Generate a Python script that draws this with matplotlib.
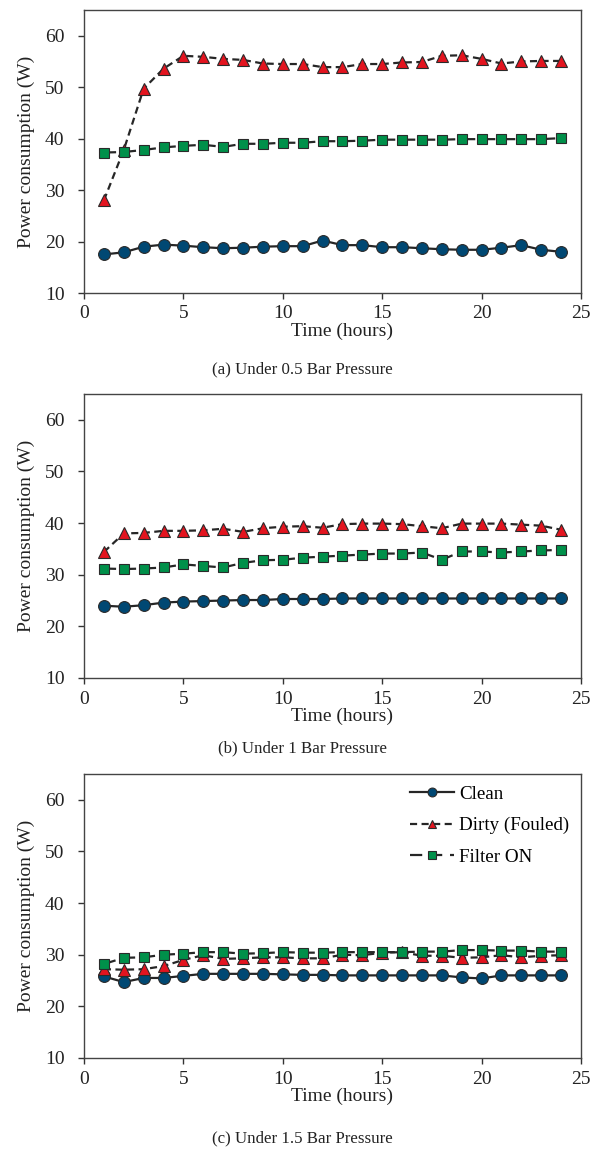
import matplotlib
matplotlib.use("Agg")
import matplotlib.pyplot as plt

plt.rcParams['font.family'] = ['Liberation Serif', 'DejaVu Serif']

hours = list(range(1, 25))

clean_a = [17.5, 17.9, 19.0, 19.4, 19.2, 18.9, 18.7, 18.8, 19.0, 19.1, 19.1, 20.2,
           19.3, 19.3, 18.9, 18.9, 18.7, 18.5, 18.4, 18.4, 18.8, 19.3, 18.4, 18.0]
dirty_a = [28.0, 37.8, 49.7, 53.6, 56.1, 55.9, 55.5, 55.3, 54.6, 54.5, 54.5, 53.9,
           53.9, 54.5, 54.5, 54.8, 54.9, 56.1, 56.2, 55.5, 54.6, 55.0, 55.1, 55.1]
filter_a = [37.3, 37.4, 37.8, 38.3, 38.6, 38.8, 38.4, 39.0, 39.0, 39.2, 39.2, 39.5,
            39.5, 39.6, 39.8, 39.8, 39.8, 39.8, 39.9, 39.9, 39.9, 39.9, 39.9, 40.1]

clean_b = [24.0, 23.8, 24.1, 24.6, 24.8, 24.9, 25.0, 25.1, 25.1, 25.3, 25.3, 25.3,
           25.4, 25.4, 25.4, 25.4, 25.4, 25.4, 25.4, 25.4, 25.4, 25.4, 25.4, 25.4]
dirty_b = [34.4, 38.0, 38.1, 38.5, 38.5, 38.6, 38.9, 38.3, 39.0, 39.3, 39.4, 39.1,
           39.8, 39.9, 39.9, 39.8, 39.4, 39.0, 39.9, 39.9, 39.9, 39.7, 39.5, 38.7]
filter_b = [31.2, 31.1, 31.2, 31.4, 32.0, 31.7, 31.4, 32.3, 32.8, 32.9, 33.3, 33.5,
            33.7, 33.9, 34.1, 34.1, 34.3, 32.9, 34.5, 34.5, 34.3, 34.5, 34.7, 34.8]

clean_c = [25.8, 24.7, 25.5, 25.5, 25.9, 26.3, 26.3, 26.3, 26.3, 26.2, 26.1, 26.1,
           26.0, 26.0, 26.0, 26.0, 26.0, 26.0, 25.6, 25.4, 26.0, 26.0, 26.0, 26.0]
dirty_c = [27.2, 27.1, 27.2, 27.8, 29.0, 29.9, 29.2, 29.3, 29.5, 29.5, 29.3, 29.3,
           30.0, 29.9, 30.4, 30.5, 29.8, 29.8, 29.4, 29.5, 29.9, 29.5, 29.8, 29.9]
filter_c = [28.2, 29.4, 29.5, 30.0, 30.2, 30.5, 30.5, 30.2, 30.3, 30.5, 30.4, 30.4,
            30.5, 30.5, 30.5, 30.5, 30.6, 30.6, 30.9, 30.9, 30.8, 30.8, 30.6, 30.6]

series_labels = ['Clean', 'Dirty (Fouled)', 'Filter ON']
panel_titles = ['(a) Under 0.5 Bar Pressure', '(b) Under 1 Bar Pressure',
                '(c) Under 1.5 Bar Pressure']
x_ticks = [0, 5, 10, 15, 20, 25]
y_ticks = [10, 20, 30, 40, 50, 60]

panels = [(clean_a, dirty_a, filter_a),
          (clean_b, dirty_b, filter_b),
          (clean_c, dirty_c, filter_c)]

W, H = 591, 1150
fig = plt.figure(figsize=(W / 100, H / 100), dpi=100)

# axes pixel boxes: (top, bottom)
boxes = [(10, 293), (394, 678), (774, 1058)]
title_y = [369, 748, 1138]
left_px, right_px = 84, 581

line_col = '#262626'
edge_col = '#2a2a2a'
FS = 14
TFS = 12.2

for i, ((c, d, f), (top, bot)) in enumerate(zip(panels, boxes)):
    ax = fig.add_axes([left_px / W, 1 - bot / H, (right_px - left_px) / W, (bot - top) / H])
    ax.plot(hours, c, color=line_col, lw=1.6, ls='-', marker='o', ms=8.5,
            mfc='#004873', mec=edge_col, mew=0.8, label=series_labels[0], zorder=3)
    ax.plot(hours, d, color=line_col, lw=1.6, ls=(0, (3.2, 2.0)), marker='^', ms=8,
            mfc='#e3141f', mec=edge_col, mew=0.8, label=series_labels[1], zorder=4)
    ax.plot(hours, f, color=line_col, lw=1.6, ls=(0, (5.5, 3.5)), marker='s', ms=7.5,
            mfc='#00904a', mec=edge_col, mew=0.8, label=series_labels[2], zorder=5)
    ax.set_xlim(0, 25)
    ax.set_ylim(10, 65)
    ax.set_xticks(x_ticks)
    ax.set_yticks(y_ticks)
    ax.tick_params(direction='out', length=4, width=1, colors='#333333',
                   labelcolor='#222222', labelsize=FS)
    ax.tick_params(axis='x', pad=5)
    ax.tick_params(axis='y', pad=10)
    for s in ax.spines.values():
        s.set_color('#444444')
        s.set_linewidth(1.0)
    ax.set_ylabel('Power consumption (W)', fontsize=FS, color='#222222', labelpad=7)
    ax.set_xlabel('Time (hours)', fontsize=FS, color='#222222')
    ax.xaxis.set_label_coords((342 - left_px) / (right_px - left_px),
                              -38 / (bot - top))
    ax.xaxis.label.set_va('center')
    fig.text(302 / W, 1 - title_y[i] / H, panel_titles[i], fontsize=TFS,
             ha='center', va='center', color='#222222')
    if i == 2:
        ax.legend(loc='upper right', frameon=False, fontsize=FS - 0.3,
                  handlelength=2.3, handletextpad=0.3, labelspacing=0.75,
                  markerscale=0.75, borderaxespad=0.3, borderpad=0.3)

fig.savefig('out.png', dpi=100)
